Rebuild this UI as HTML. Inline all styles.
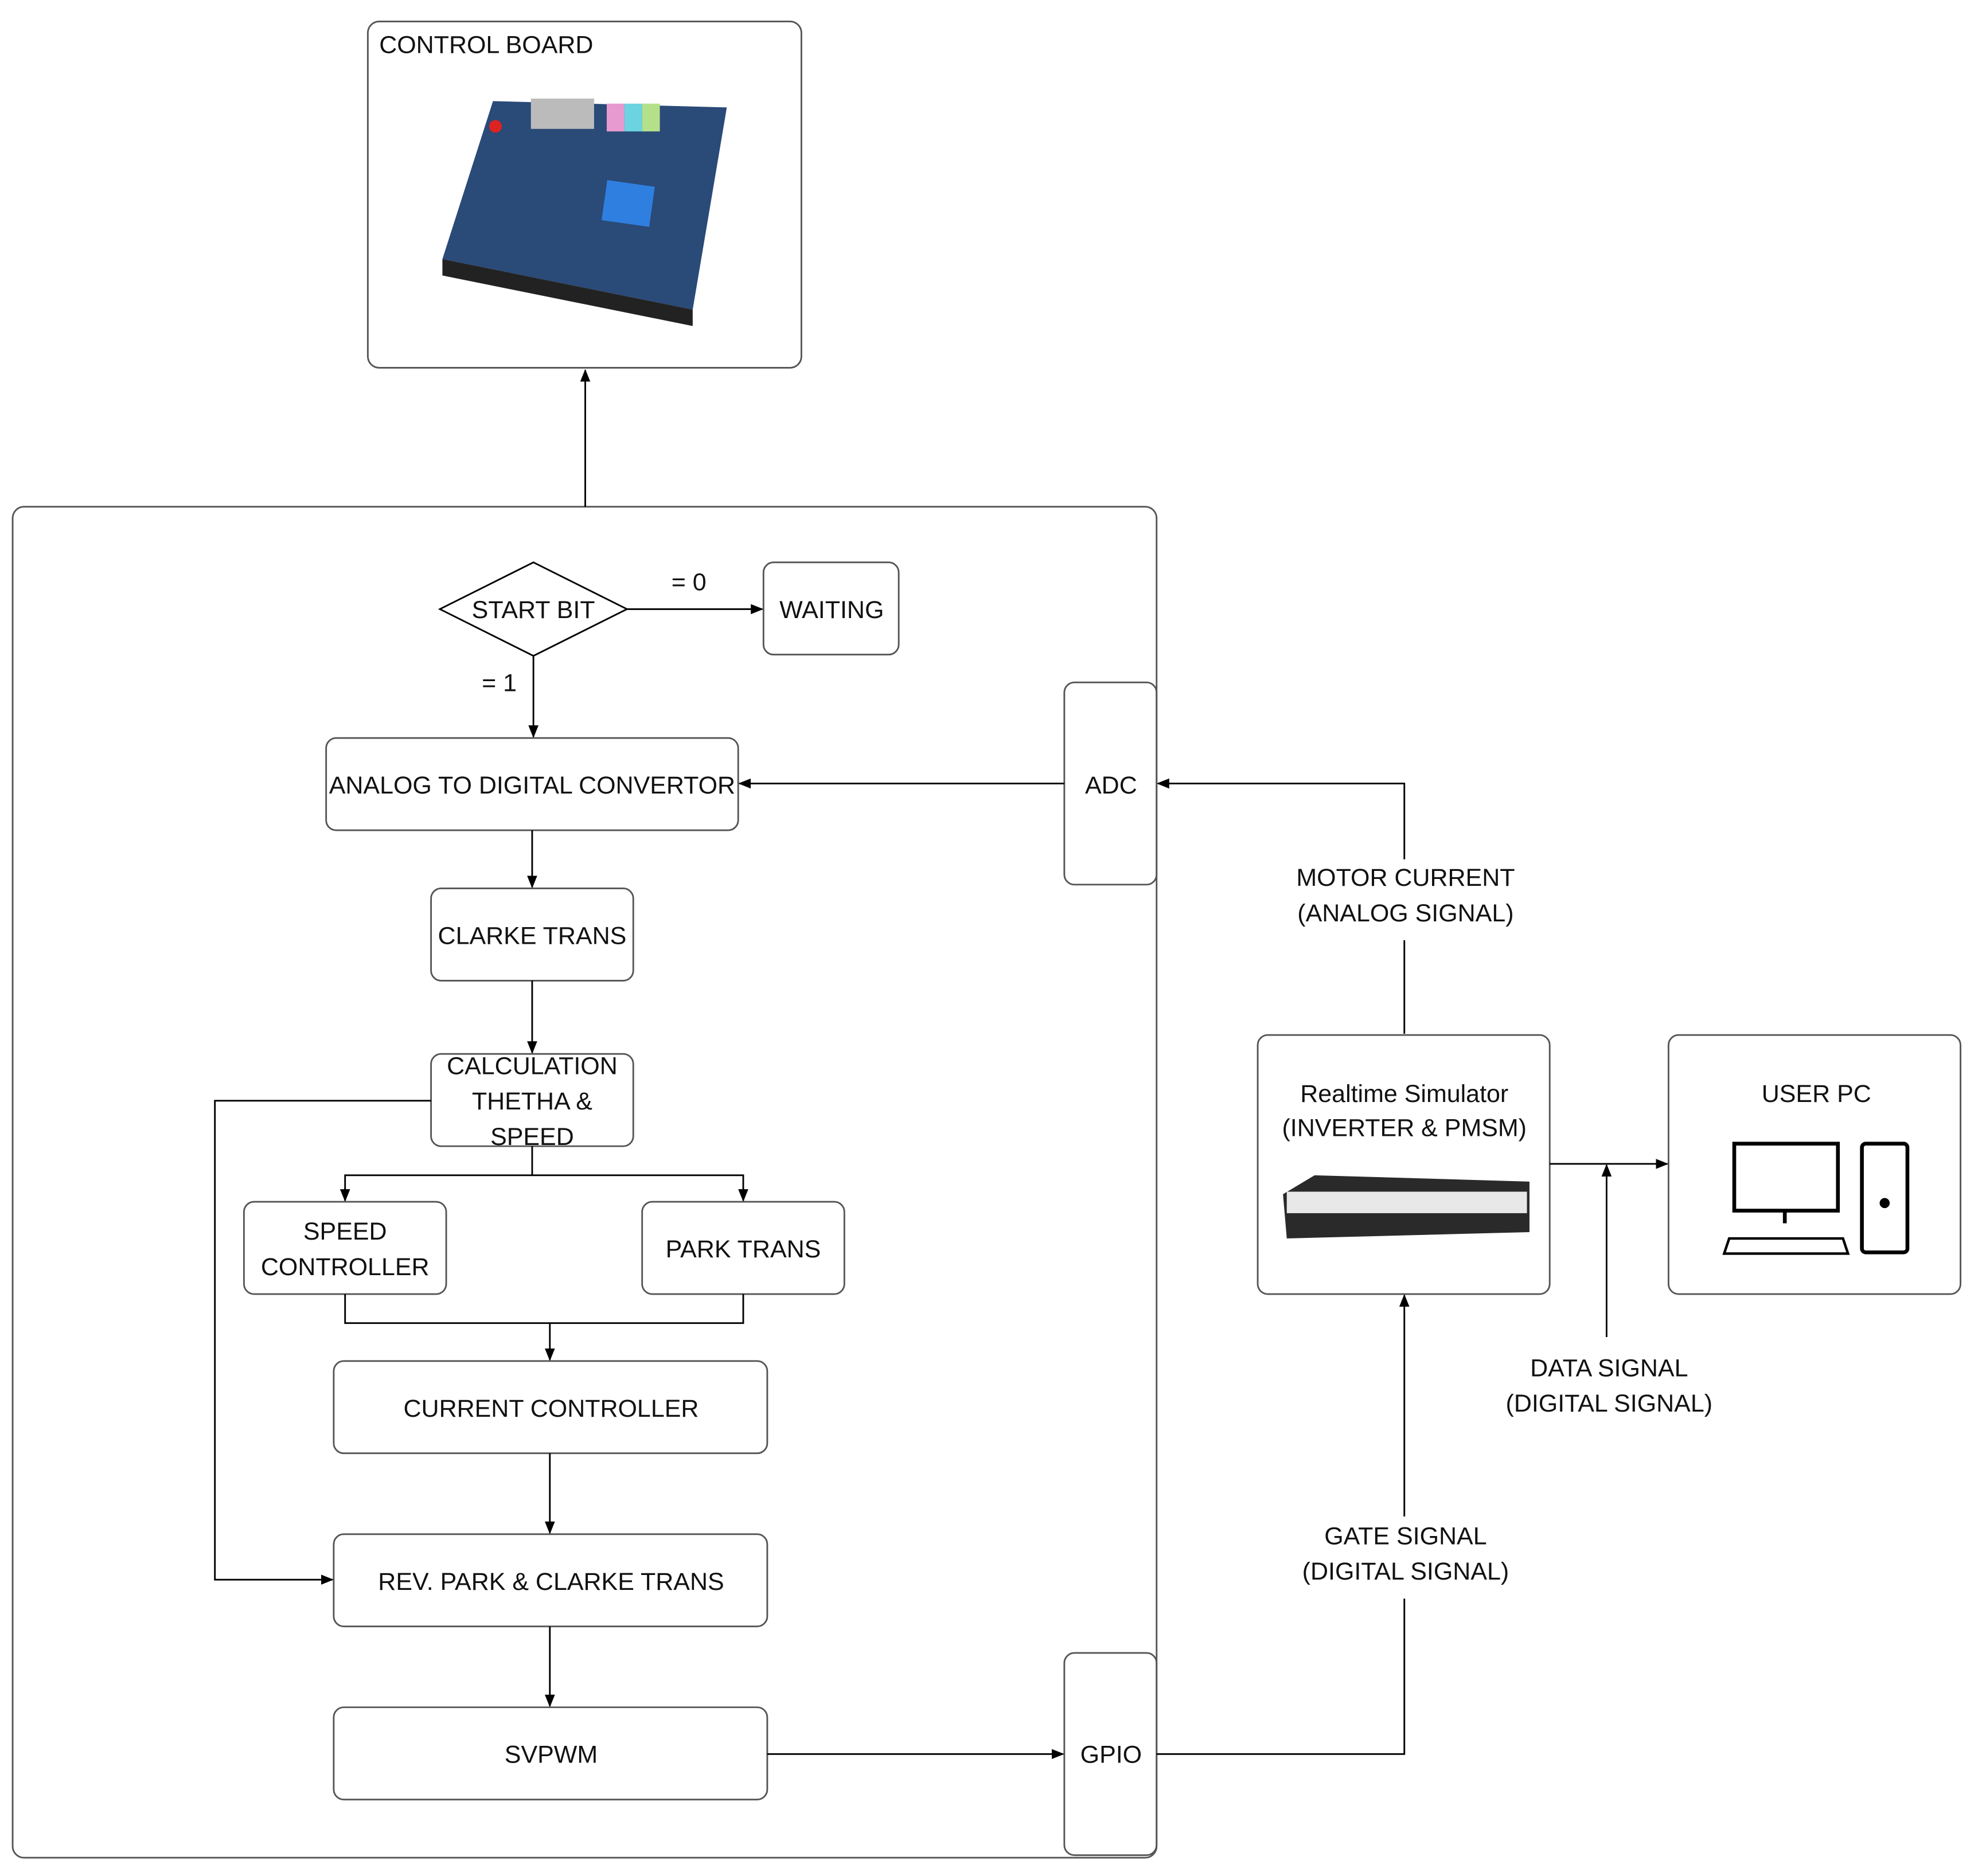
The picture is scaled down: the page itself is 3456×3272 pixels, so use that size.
<!DOCTYPE html>
<html><head><meta charset="utf-8"><style>
html,body{margin:0;padding:0;background:#fff;}
svg{display:block;}
text{font-family:"Liberation Sans",sans-serif;font-size:19.5px;fill:#111;}
</style></head><body>
<svg width="3456" height="3272" viewBox="0 0 1568 1484.5" preserveAspectRatio="none" xmlns="http://www.w3.org/2000/svg">
<defs><marker id="a" markerWidth="10" markerHeight="10" refX="9" refY="5" orient="auto" markerUnits="userSpaceOnUse"><path d="M0,1 L10,5 L0,9 Z" fill="#000"/></marker></defs>
<g fill="none" stroke="#555" stroke-width="1.3">
<rect x="291" y="17" width="343" height="274" rx="9"/>
<rect x="10" y="401" width="905" height="1069" rx="9"/>
<polygon points="348,482 422,445 496,482 422,519" stroke="#000"/>
<rect x="604" y="445" width="107" height="73" rx="8"/>
<rect x="258" y="584" width="326" height="73" rx="8"/>
<rect x="842" y="540" width="73" height="160" rx="8"/>
<rect x="341" y="703" width="160" height="73" rx="8"/>
<rect x="341" y="834" width="160" height="73" rx="8"/>
<rect x="193" y="951" width="160" height="73" rx="8"/>
<rect x="508" y="951" width="160" height="73" rx="8"/>
<rect x="264" y="1077" width="343" height="73" rx="8"/>
<rect x="264" y="1214" width="343" height="73" rx="8"/>
<rect x="264" y="1351" width="343" height="73" rx="8"/>
<rect x="842" y="1308" width="73" height="160" rx="8"/>
<rect x="995" y="819" width="231" height="205" rx="8"/>
<rect x="1320" y="819" width="231" height="205" rx="8"/>
</g>
<g fill="none" stroke="#000" stroke-width="1.3">
<line x1="463" y1="401" x2="463" y2="293" marker-end="url(#a)"/>
<line x1="496" y1="482" x2="603" y2="482" marker-end="url(#a)"/>
<line x1="422" y1="519" x2="422" y2="583" marker-end="url(#a)"/>
<line x1="842" y1="620" x2="585" y2="620" marker-end="url(#a)"/>
<polyline points="1111,818 1111,620 916,620" marker-end="url(#a)"/>
<line x1="421" y1="657" x2="421" y2="702" marker-end="url(#a)"/>
<line x1="421" y1="776" x2="421" y2="833" marker-end="url(#a)"/>
<polyline points="341,871 170,871 170,1250 263,1250" marker-end="url(#a)"/>
<polyline points="421,907 421,930"/>
<polyline points="273,950 273,930 588,930 588,950"/>
<line x1="273" y1="940" x2="273" y2="950" marker-end="url(#a)"/>
<line x1="588" y1="940" x2="588" y2="950" marker-end="url(#a)"/>
<polyline points="273,1024 273,1047 588,1047 588,1024"/>
<line x1="435" y1="1047" x2="435" y2="1076" marker-end="url(#a)"/>
<line x1="435" y1="1150" x2="435" y2="1213" marker-end="url(#a)"/>
<line x1="435" y1="1287" x2="435" y2="1350" marker-end="url(#a)"/>
<line x1="607" y1="1388" x2="841" y2="1388" marker-end="url(#a)"/>
<polyline points="915,1388 1111,1388 1111,1025" marker-end="url(#a)"/>
<line x1="1226" y1="921" x2="1319" y2="921" marker-end="url(#a)"/>
<line x1="1271" y1="1058" x2="1271" y2="922" marker-end="url(#a)"/>
</g>
<g fill="#fff">
<rect x="1020" y="680" width="185" height="64"/>
<rect x="1025" y="1200" width="175" height="65"/>
</g>
<g>
<polygon points="390,80 575,85 548,245 350,205" fill="#2a4a78"/>
<polygon points="350,205 548,245 548,258 350,218" fill="#222"/>
<rect x="478" y="145" width="38" height="32" fill="#2f7fe0" transform="rotate(8 497 161)"/>
<rect x="480" y="82" width="14" height="22" fill="#e79ad0"/>
<rect x="494" y="82" width="14" height="22" fill="#6cd3e0"/>
<rect x="508" y="82" width="14" height="22" fill="#b5e08a"/>
<rect x="420" y="78" width="50" height="24" fill="#bbb"/>
<circle cx="392" cy="100" r="5" fill="#d22"/>
</g>
<polygon points="1015,945 1040,930 1210,935 1210,975 1018,980" fill="#2a2a2a"/>
<rect x="1018" y="943" width="190" height="17" fill="#e8e8e8"/>
<g fill="none" stroke="#000" stroke-width="3">
<rect x="1372" y="905" width="82" height="53"/>
<line x1="1412" y1="958" x2="1412" y2="968"/>
<polygon points="1368,980 1458,980 1462,992 1364,992" stroke-width="2"/>
<rect x="1473" y="905" width="36" height="86" rx="3"/>
</g>
<circle cx="1491" cy="952" r="4" fill="#000"/>
<g font-size="19.5">
<text x="300" y="42">CONTROL BOARD</text>
<text x="422" y="489" text-anchor="middle">START BIT</text>
<text x="545" y="467" text-anchor="middle">= 0</text>
<text x="658" y="489" text-anchor="middle">WAITING</text>
<text x="395" y="547" text-anchor="middle">= 1</text>
<text x="421" y="628" text-anchor="middle">ANALOG TO DIGITAL CONVERTOR</text>
<text x="879" y="628" text-anchor="middle">ADC</text>
<text x="1112" y="701" text-anchor="middle">MOTOR CURRENT</text>
<text x="1112" y="729" text-anchor="middle">(ANALOG SIGNAL)</text>
<text x="421" y="747" text-anchor="middle">CLARKE TRANS</text>
<text x="421" y="850" text-anchor="middle">CALCULATION</text>
<text x="421" y="878" text-anchor="middle">THETHA &amp;</text>
<text x="421" y="906" text-anchor="middle">SPEED</text>
<text x="273" y="981" text-anchor="middle">SPEED</text>
<text x="273" y="1009" text-anchor="middle">CONTROLLER</text>
<text x="588" y="995" text-anchor="middle">PARK TRANS</text>
<text x="436" y="1121" text-anchor="middle">CURRENT CONTROLLER</text>
<text x="436" y="1258" text-anchor="middle">REV. PARK &amp; CLARKE TRANS</text>
<text x="436" y="1395" text-anchor="middle">SVPWM</text>
<text x="879" y="1395" text-anchor="middle">GPIO</text>
<text x="1111" y="872" text-anchor="middle">Realtime Simulator</text>
<text x="1111" y="899" text-anchor="middle">(INVERTER &amp; PMSM)</text>
<text x="1437" y="872" text-anchor="middle">USER PC</text>
<text x="1273" y="1089" text-anchor="middle">DATA SIGNAL</text>
<text x="1273" y="1117" text-anchor="middle">(DIGITAL SIGNAL)</text>
<text x="1112" y="1222" text-anchor="middle">GATE SIGNAL</text>
<text x="1112" y="1250" text-anchor="middle">(DIGITAL SIGNAL)</text>
</g>
</svg>
</body></html>
